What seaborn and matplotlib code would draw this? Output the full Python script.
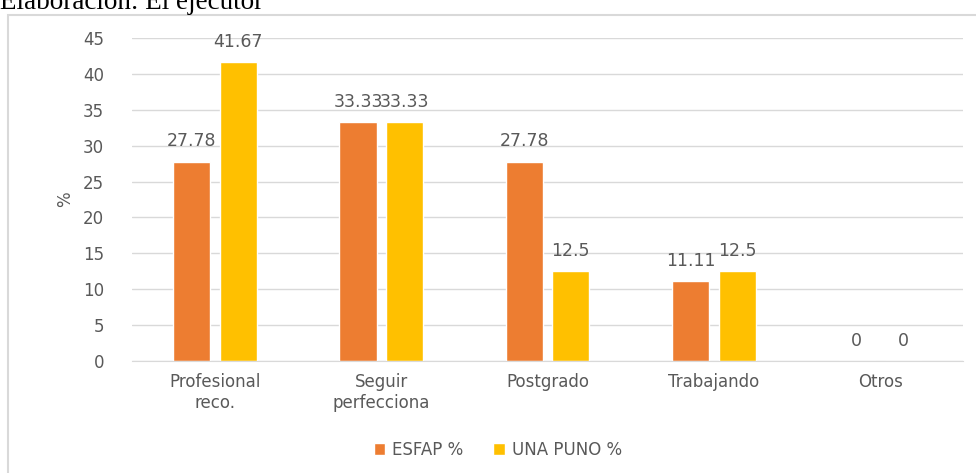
import pandas as pd
import matplotlib.pyplot as plt
import seaborn as sns
from matplotlib.patches import Rectangle

categories = ['Profesional\nreco.', 'Seguir\nperfecciona', 'Postgrado', 'Trabajando', 'Otros']
esfap = [27.78, 33.33, 27.78, 11.11, 0]
una_puno = [41.67, 33.33, 12.5, 12.5, 0]
series = ['ESFAP %', 'UNA PUNO %']

df = pd.DataFrame({
    'cat': categories * 2,
    'val': esfap + una_puno,
    'serie': [series[0]] * len(categories) + [series[1]] * len(categories),
})

sns.set_style('white')
plt.rcParams['font.family'] = ['DejaVu Sans']
gray = '#595959'

fig = plt.figure(figsize=(9.76, 4.73), dpi=100)
ax = fig.add_axes([0.135, 0.2368, 0.852, 0.6829])

sns.barplot(data=df, x='cat', y='val', hue='serie', palette=['#ED7D31', '#FFC000'],
            width=0.56, gap=0.2, ax=ax, saturation=1)

for c in ax.containers:
    ax.bar_label(c, fmt='{:g}', padding=8, fontsize=12.5, color=gray)

ax.set_ylim(0, 45)
ax.set_yticks(range(0, 46, 5))
ax.grid(axis='y', color='#D9D9D9', linewidth=1)
ax.set_axisbelow(True)
for s in ['top', 'right', 'left']:
    ax.spines[s].set_visible(False)
ax.spines['bottom'].set_color('#D9D9D9')
ax.tick_params(axis='both', length=0, labelsize=12, labelcolor=gray)
ax.tick_params(axis='y', pad=20)
ax.tick_params(axis='x', pad=9)
ax.set_xlabel('')
ax.set_ylabel('%', fontsize=12, color=gray, labelpad=6)

h, l = ax.get_legend_handles_labels()
ax.legend(h, l, loc='center', bbox_to_anchor=(0.44, -0.275), ncol=2, frameon=False,
          fontsize=12, labelcolor=gray, handlelength=0.7, handleheight=0.7,
          handletextpad=0.4, columnspacing=1.8)

fig.patches.append(Rectangle((8 / 976, -0.1), 1.0, 1 - 15 / 473 + 0.1,
                             transform=fig.transFigure, fill=False,
                             edgecolor='#D9D9D9', linewidth=1.5))
fig.text(0.0, 1 - 9 / 473, 'Elaboración: El ejecutor', family='Liberation Serif',
         fontsize=19.5, va='baseline', ha='left', color='black')

fig.savefig('out.png', dpi=100)
